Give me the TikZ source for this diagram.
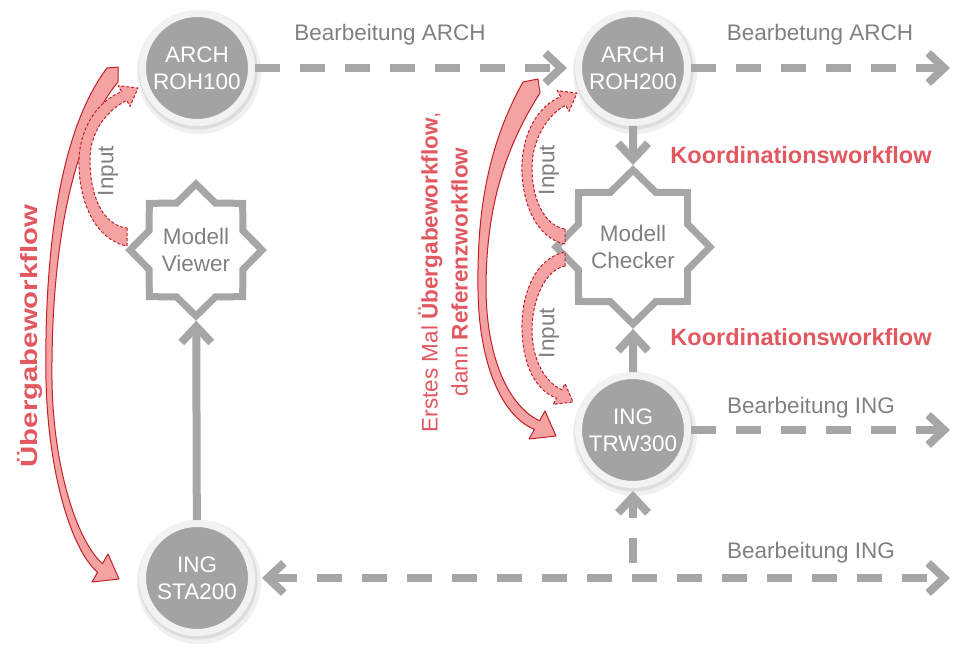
\documentclass[tikz,border=0pt]{standalone}
\usepackage{fontspec}
\setmainfont{Liberation Sans}
\usetikzlibrary{arrows.meta,shapes.geometric,calc}
\definecolor{glinec}{RGB}{166,166,166}
\definecolor{gfillc}{RGB}{163,163,163}
\definecolor{ringc}{RGB}{242,242,242}
\definecolor{gtextc}{RGB}{128,128,128}
\definecolor{rtextc}{RGB}{226,88,96}
\definecolor{pinkc}{RGB}{245,162,162}
\definecolor{dredc}{RGB}{192,32,40}
\begin{document}
\begin{tikzpicture}[x=1pt,y=-1pt,
  font=\fontsize{22.5}{27}\selectfont,
  circ/.style={circle, fill=gfillc, draw=ringc, line width=7pt, minimum size=109pt, inner sep=0pt, align=center, text=white},
  starnode/.style={star, star points=8, star point ratio=1.3, minimum size=132pt, inner sep=0pt, draw=glinec, line width=7pt, fill=white, align=center, text=gtextc, line join=miter},
  barb/.tip={Straight Barb[length=16pt,width=30pt]},
  garrow/.style={draw=glinec, line width=8pt, -barb},
  gdash/.style={garrow, dash pattern=on 25pt off 20pt},
  lbl/.style={text=gtextc, inner sep=0pt},
  rlbl/.style={text=rtextc, font=\fontsize{23.5}{28}\selectfont\bfseries, inner sep=0pt},
  redbig/.style={fill=pinkc, draw=dredc, line width=1pt, line join=round},
  reddash/.style={fill=pinkc, draw=dredc, line width=1pt, dash pattern=on 3pt off 2pt, line join=round},
]
\useasboundingbox (0,0) rectangle (958,650);

% shadows of the circles
\foreach \x/\y in {197/68, 633/68, 633/430, 197/578}{
  \fill[black,opacity=.06] (\x+2,\y+4) circle (62pt);
  \fill[black,opacity=.08] (\x+1,\y+2) circle (59.5pt);
}

% nodes
\node[circ] (roh100) at (197,68) {ARCH\\ROH100};
\node[circ] (roh200) at (633,68) {ARCH\\ROH200};
\node[circ] (trw300) at (633,430) {ING\\TRW300};
\node[circ] (sta200) at (197,578) {ING\\STA200};
\node[starnode] (viewer) at (196,250) {Modell\\Viewer};
\node[starnode] (checker) at (633,247) {Modell\\Checker};

\coordinate (e1) at (950,68);
\coordinate (e2) at (950,430);
\coordinate (e3) at (950,578);
\coordinate (j) at (633,578);

% grey connectors
\draw[gdash, shorten >=8pt] (roh100) -- (roh200);
\draw[gdash] (roh200) -- (e1);
\draw[gdash] (trw300) -- (e2);
\draw[gdash, barb-barb, shorten <=7pt] (sta200) -- (e3);
\draw[gdash, dash phase=30pt, shorten >=3pt] (j) -- (trw300);
\draw[garrow] (roh200) -- (checker);
\draw[garrow] (trw300) -- (checker);
\draw[garrow] (sta200) -- (viewer);

% labels
\node[lbl] (t1) at (390,35) {Bearbeitung ARCH};
\node[lbl] (t2) at (820,35) {Bearbetung ARCH};
\node[lbl] (t3) at (811,408) {Bearbeitung ING};
\node[lbl] (t4) at (811,553) {Bearbeitung ING};
\node[rlbl] (k1) at (801,155) {Koordinationsworkflow};
\node[rlbl] (k2) at (801,337) {Koordinationsworkflow};
\node[lbl, rotate=90] (in1) at (108,171) {Input};
\node[lbl, rotate=90] (in2) at (549,170) {Input};
\node[lbl, rotate=90] (in3) at (549,333) {Input};
\node[rlbl, rotate=90, xscale=1.25] (ub) at (30,336) {Übergabeworkflow};
\node[text=rtextc, rotate=90, align=center, inner sep=0pt, font=\fontsize{22.5}{30}\selectfont] (erst) at (443,272) {Erstes Mal \textbf{Übergabeworkflow},\\dann \textbf{Referenzworkflow}};

% red curved arrows
\draw[redbig] (118,67) -- (107,68) .. controls (60,130) and (44,250) .. (46,380)
  .. controls (48,470) and (70,548) .. (97.5,572.3) -- (92,582) -- (119,579) -- (108,554) -- (102.5,563.7)
  .. controls (76,540) and (53,465) .. (52,380) .. controls (51,255) and (70,140) .. (118,82) -- cycle;

\draw[redbig] (538,79) -- (523,82) .. controls (485,150) and (477,220) .. (478,290)
  .. controls (479,370) and (505,418) .. (534.5,429.3) -- (529,439) -- (556,436) -- (545,411) -- (539.5,420.7)
  .. controls (512,408) and (487,365) .. (486,290) .. controls (486,225) and (497,160) .. (540,93) -- cycle;

\draw[reddash] (127,228) -- (127,246) .. controls (95,240) and (78,200) .. (79,160)
  .. controls (80,125) and (100,100) .. (121.6,91.7) -- (118.1,85.6) -- (138,88) -- (130.1,106.4) -- (126.6,100.3)
  .. controls (108,110) and (90,130) .. (90,160) .. controls (90,195) and (102,225) .. (127,228) -- cycle;

\draw[reddash] (565,229) -- (565,244) .. controls (535,238) and (521,200) .. (522,165)
  .. controls (523,130) and (540,105) .. (560.6,96.7) -- (557.1,90.6) -- (577,93) -- (569.1,111.4) -- (565.6,105.3)
  .. controls (547,115) and (532,140) .. (532,168) .. controls (532,200) and (545,226) .. (565,229) -- cycle;

\draw[reddash] (565,266) -- (565,252) .. controls (535,258) and (521,295) .. (522,330)
  .. controls (523,365) and (535,390) .. (556.6,398.3) -- (553.1,404.4) -- (573,402) -- (565.1,383.6) -- (561.6,389.7)
  .. controls (545,382) and (532,360) .. (532,330) .. controls (532,300) and (545,270) .. (565,266) -- cycle;
\end{tikzpicture}
\end{document}
